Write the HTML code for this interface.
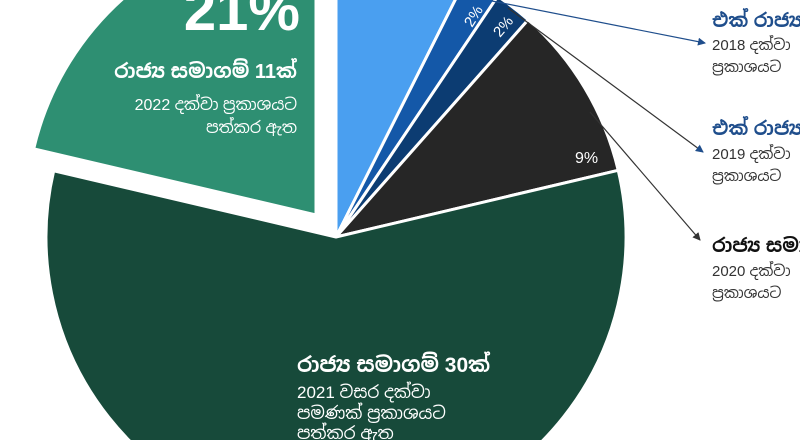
<!DOCTYPE html>
<html><head><meta charset="utf-8">
<style>
html,body{margin:0;padding:0;background:#fff;width:800px;height:440px;overflow:hidden;}
svg{display:block;overflow:hidden;}
text{font-family:"Liberation Sans","Noto Sans Sinhala","Nirmala UI",sans-serif;}
</style></head>
<body>
<svg width="800" height="440" viewBox="0 0 800 440" xmlns="http://www.w3.org/2000/svg">
<defs>
<marker id="ar" markerWidth="8" markerHeight="8" refX="7" refY="4" orient="auto" markerUnits="userSpaceOnUse">
<path d="M0,0 L8,4 L0,8 z" fill="#1f4e8c"/></marker>
<marker id="ak" markerWidth="8" markerHeight="8" refX="7" refY="4" orient="auto" markerUnits="userSpaceOnUse">
<path d="M0,0 L8,4 L0,8 z" fill="#333"/></marker>
</defs>
<g stroke="#fff" stroke-width="3" stroke-linejoin="round">
<path d="M336,237 L336,-53 A290,290 0 0 1 466.3,-22.1 Z" fill="#4a9ff0"/>
<path d="M336,237 L466.3,-22.1 A290,290 0 0 1 497.7,-3.7 Z" fill="#1458a8"/>
<path d="M336,237 L497.7,-3.7 A290,290 0 0 1 528.2,19.8 Z" fill="#0c3c72"/>
<path d="M336,237 L528.2,19.8 A290,290 0 0 1 618.2,170.3 Z" fill="#262626"/>
<path d="M336,237 L618.2,170.3 A290,290 0 1 1 53.7,170.8 Z" fill="#174a3a"/>
<path d="M316,215 L33.7,148.8 A290,290 0 0 1 316,-75 Z" fill="#2e8f72"/>
</g>
<g stroke-width="1.2" fill="none">
<line x1="492" y1="1" x2="705" y2="43" stroke="#1f4e8c" marker-end="url(#ar)"/>
<line x1="508" y1="8" x2="703" y2="152" stroke="#333" marker-end="url(#ar)"/>
<line x1="590" y1="112" x2="700" y2="240" stroke="#333" marker-end="url(#ak)"/>
</g>
<text x="300" y="30" fill="#fff" font-size="58" font-weight="bold" text-anchor="end">21%</text>
<text x="297" y="78" fill="#fff" font-size="20" font-weight="bold" text-anchor="end">රාජ්‍ය සමාගම් 11ක්</text>
<text x="297" y="110" fill="#fff" font-size="16" text-anchor="end">2022 දක්වා ප්‍රකාශයට</text>
<text x="297" y="133" fill="#fff" font-size="16" text-anchor="end">පත්කර ඇත</text>
<text x="297" y="372" fill="#fff" font-size="21" font-weight="bold">රාජ්‍ය සමාගම් 30ක්</text>
<text x="297" y="398" fill="#fff" font-size="17">2021 වසර දක්වා</text>
<text x="297" y="419" fill="#fff" font-size="17">පමණක් ප්‍රකාශයට</text>
<text x="297" y="439" fill="#fff" font-size="17">පත්කර ඇත</text>
<text x="575" y="163" fill="#fff" font-size="16">9%</text>
<text x="0" y="0" fill="#fff" font-size="15" transform="translate(472,28) rotate(-58)">2%</text>
<text x="0" y="0" fill="#fff" font-size="15" transform="translate(500,38) rotate(-50)">2%</text>
<text x="712" y="27" fill="#1f4e8c" font-size="19" font-weight="bold">එක් රාජ්‍ය</text>
<text x="712" y="50" fill="#333" font-size="15">2018 දක්වා</text>
<text x="712" y="72" fill="#333" font-size="15">ප්‍රකාශයට</text>
<text x="712" y="135" fill="#1f4e8c" font-size="19" font-weight="bold">එක් රාජ්‍ය</text>
<text x="712" y="159" fill="#333" font-size="15">2019 දක්වා</text>
<text x="712" y="181" fill="#333" font-size="15">ප්‍රකාශයට</text>
<text x="712" y="252" fill="#111" font-size="19" font-weight="bold">රාජ්‍ය සමා</text>
<text x="712" y="276" fill="#333" font-size="15">2020 දක්වා</text>
<text x="712" y="298" fill="#333" font-size="15">ප්‍රකාශයට</text>
</svg>
</body></html>
